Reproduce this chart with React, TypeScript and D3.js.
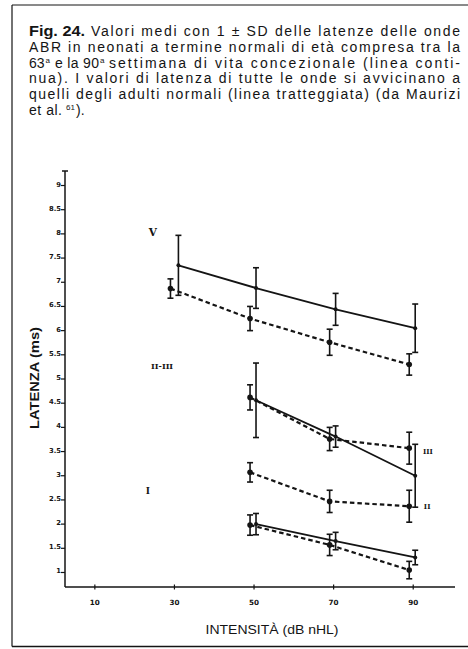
import React from "react";
import * as d3 from "d3";

// Stimulus intensities (dB nHL); the two groups are drawn slightly apart
const newbornIntensityV = [31, 50.5, 70.5, 90.5];
const newbornIntensity = [50.5, 70.5, 90.5];
const adultIntensityV = [29, 49, 69, 89];
const adultIntensity = [49, 69, 89];

// Mean latencies (ms) and 1 SD — newborns (solid line)
const newbornV = [7.35, 6.88, 6.44, 6.05];
const newbornVSD = [0.62, 0.42, 0.33, 0.5];
const newbornIII = [4.56, 3.81, 3.0];
const newbornIIISD = [0.77, 0.22, 0.65];
const newbornI = [2.0, 1.65, 1.31];
const newbornISD = [0.22, 0.18, 0.15];

// Mean latencies (ms) and 1 SD — adults (dashed line)
const adultV = [6.87, 6.25, 5.76, 5.3];
const adultVSD = [0.2, 0.25, 0.27, 0.22];
const adultIII = [4.62, 3.76, 3.57];
const adultIIISD = [0.26, 0.24, 0.33];
const adultII = [3.07, 2.47, 2.37];
const adultIISD = [0.2, 0.23, 0.33];
const adultI = [1.98, 1.57, 1.05];
const adultISD = [0.21, 0.22, 0.18];

// Axis ticks
const xTicks = [10, 30, 50, 70, 90];
const yTicks = [1, 1.5, 2, 2.5, 3, 3.5, 4, 4.5, 5, 5.5, 6, 6.5, 7, 7.5, 8, 8.5, 9];

const W = 468;
const H = 649;
const INK = "#141414";

const x = d3.scaleLinear().domain([2.5, 100.5]).range([65, 455]);
const y = d3.scaleLinear().domain([0.7, 9.3]).range([587, 171]);

type Pt = { db: number; ms: number; sd: number };
type Series = { pts: Pt[]; dashed: boolean };

const zip = (db: number[], ms: number[], sd: number[]): Pt[] =>
  db.map((d, i) => ({ db: d, ms: ms[i], sd: sd[i] }));

const series: Series[] = [
  { pts: zip(newbornIntensityV, newbornV, newbornVSD), dashed: false },
  { pts: zip(newbornIntensity, newbornIII, newbornIIISD), dashed: false },
  { pts: zip(newbornIntensity, newbornI, newbornISD), dashed: false },
  { pts: zip(adultIntensityV, adultV, adultVSD), dashed: true },
  { pts: zip(adultIntensity, adultIII, adultIIISD), dashed: true },
  { pts: zip(adultIntensity, adultII, adultIISD), dashed: true },
  { pts: zip(adultIntensity, adultI, adultISD), dashed: true },
];

const line = d3
  .line<Pt>()
  .x((p) => x(p.db))
  .y((p) => y(p.ms));

const captionFont = "'Liberation Sans', Arial, sans-serif";

export default function App() {
  const L = 29;
  const R = 460;
  const base = 36;
  const lh = 15.8;
  const row = (i: number) => base + i * lh;
  return (
    <svg
      width={W}
      height={H}
      viewBox={`0 0 ${W} ${H}`}
      style={{ position: "absolute", left: 0, top: 0, display: "block", background: "#fff" }}
    >
      {/* page frame */}
      <g stroke={INK} fill="none">
        <line x1={12} y1={5} x2={W} y2={5} strokeWidth={1} />
        <line x1={12} y1={5} x2={12} y2={646.5} strokeWidth={1.2} />
        <line x1={12} y1={646.5} x2={W} y2={646.5} strokeWidth={1.3} />
      </g>

      {/* caption */}
      <g fontFamily={captionFont} fontSize={14} fill={INK}>
        <text x={L} y={row(0)} fontWeight={700} textLength={56} lengthAdjust="spacingAndGlyphs">
          Fig. 24.
        </text>
        <text x={91} y={row(0)} textLength={R - 91} lengthAdjust="spacing">
          Valori medi con 1 ± SD delle latenze delle onde
        </text>
        <text x={L} y={row(1)} textLength={R - L} lengthAdjust="spacing">
          ABR in neonati a termine normali di età compresa tra la
        </text>
        <text x={L} y={row(2)}>63</text>
        <text x={45.5} y={row(2) - 5} fontSize={8}>a</text>
        <text x={55} y={row(2)} textLength={44} lengthAdjust="spacing">
          e la 90
        </text>
        <text x={100} y={row(2) - 5} fontSize={8}>a</text>
        <text x={109} y={row(2)} textLength={R - 109} lengthAdjust="spacing">
          settimana di vita concezionale (linea conti-
        </text>
        <text x={L} y={row(3)} textLength={R - L} lengthAdjust="spacing">
          nua). I valori di latenza di tutte le onde si avvicinano a
        </text>
        <text x={L} y={row(4)} textLength={R - L} lengthAdjust="spacing">
          quelli degli adulti normali (linea tratteggiata) (da Maurizi
        </text>
        <text x={L} y={row(5)} textLength={33} lengthAdjust="spacing">et al.</text>
        <text x={66} y={row(5) - 5} fontSize={8}>61</text>
        <text x={76} y={row(5)}>).</text>
      </g>

      {/* axes */}
      <g stroke={INK} fill="none" strokeWidth={1.5}>
        <line x1={x(2.5)} y1={y(9.3)} x2={x(2.5)} y2={y(0.7)} />
        <line x1={x(2.5)} y1={y(0.7)} x2={x(100.5)} y2={y(0.7)} />
        <line x1={x(2.5) - 3} y1={y(9.3)} x2={x(2.5) + 3} y2={y(9.3)} />
        {yTicks.map((t) => (
          <line key={t} x1={x(2.5) - 4} y1={y(t)} x2={x(2.5)} y2={y(t)} strokeWidth={1.2} />
        ))}
        {xTicks.map((t) => (
          <line key={t} x1={x(t)} y1={y(0.7) - 2.5} x2={x(t)} y2={y(0.7) + 2.5} strokeWidth={1.2} />
        ))}
      </g>
      <g fontFamily="'DejaVu Sans', sans-serif" fontWeight={700} fontSize={6.8} fill={INK}>
        {yTicks.map((t) => (
          <text key={t} x={x(2.5) - 4} y={y(t) + 1} textAnchor="end">
            {String(t)}
          </text>
        ))}
        {xTicks.map((t) => (
          <text key={t} x={x(t)} y={y(0.7) + 18} textAnchor="middle" fontSize={7.2}>
            {String(t)}
          </text>
        ))}
      </g>
      <text
        x={272}
        y={634}
        textAnchor="middle"
        fontFamily="'Liberation Sans Narrow', 'Liberation Sans', sans-serif"
        fontSize={12.5}
        fill={INK}
        textLength={133}
        lengthAdjust="spacingAndGlyphs"
      >
        INTENSITÀ (dB nHL)
      </text>
      <text
        transform={`translate(39,378) rotate(-90)`}
        textAnchor="middle"
        fontFamily="'Liberation Sans Narrow', 'Liberation Sans', sans-serif"
        fontSize={13}
        fontWeight={700}
        fill={INK}
        textLength={102}
        lengthAdjust="spacingAndGlyphs"
      >
        LATENZA (ms)
      </text>

      {/* latency curves with ±1 SD bars */}
      {series.map((s, i) => (
        <g key={i}>
          <path
            d={line(s.pts) || ""}
            fill="none"
            stroke={INK}
            strokeWidth={s.dashed ? 2.2 : 1.8}
            strokeDasharray={s.dashed ? "4.5 3" : undefined}
          />
          {s.pts.map((p, j) => {
            const cx = x(p.db);
            const top = y(p.ms + p.sd);
            const bot = y(p.ms - p.sd);
            return (
              <g key={j} stroke={INK} strokeWidth={1.6}>
                <line x1={cx} y1={top} x2={cx} y2={bot} />
                <line x1={cx - 3} y1={top} x2={cx + 3} y2={top} />
                <line x1={cx - 3} y1={bot} x2={cx + 3} y2={bot} />
                <circle cx={cx} cy={y(p.ms)} r={s.dashed ? 2.8 : 2} fill={INK} stroke="none" />
              </g>
            );
          })}
        </g>
      ))}

      {/* wave labels */}
      <g fontFamily="'DejaVu Serif', serif" fontWeight={700} fill={INK} textAnchor="middle">
        <text x={x(24.6)} y={y(8.04) + 4} fontSize={10.5}>V</text>
        <text x={x(26.9)} y={y(5.27) + 3} fontSize={8}>II-III</text>
        <text x={x(23.3)} y={y(2.7) + 3.5} fontSize={9}>I</text>
        <text x={x(93.7)} y={y(3.51) + 3} fontSize={7}>III</text>
        <text x={x(93.5)} y={y(2.37) + 3} fontSize={7}>II</text>
      </g>
    </svg>
  );
}
